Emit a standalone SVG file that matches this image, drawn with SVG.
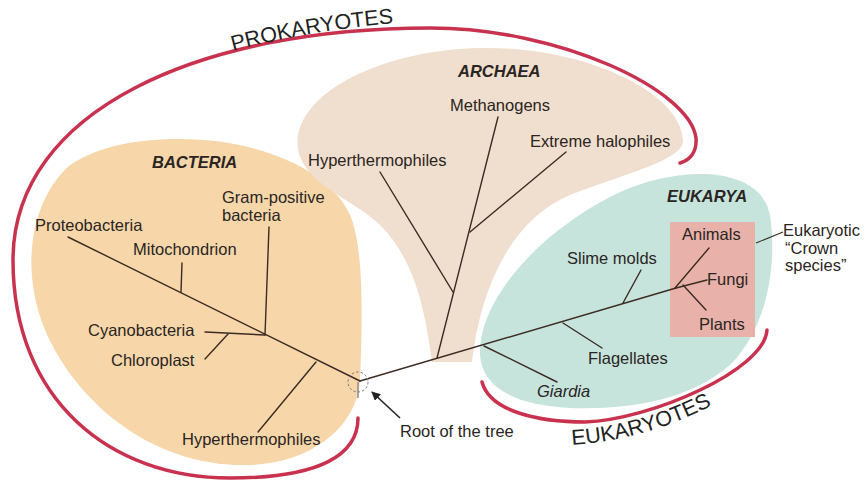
<svg xmlns="http://www.w3.org/2000/svg" width="868" height="481" viewBox="0 0 868 481">
<defs>
<style>
.lbl{font-family:"Liberation Sans",Arial,sans-serif;font-size:16.5px;fill:#2a2522}
.hdr{font-family:"Liberation Sans",Arial,sans-serif;font-size:16.5px;font-weight:bold;font-style:italic;fill:#2a2522}
.big{font-family:"Liberation Sans",Arial,sans-serif;font-size:21.5px;fill:#222}
.br{fill:none;stroke:#3b2b22;stroke-width:1.4;stroke-linecap:round}
.red{fill:none;stroke:#c8324f;stroke-width:3.5;stroke-linecap:round}
</style>
<marker id="ah" viewBox="0 0 10 10" refX="9" refY="5" markerWidth="9" markerHeight="9" orient="auto" markerUnits="userSpaceOnUse">
<path d="M0,0 L10,5 L0,10 Z" fill="#222"/>
</marker>
<path id="pProk" d="M 233 51 Q 310 30 398 23"/>
<path id="pEuk" d="M 572 445 Q 650 440 724 399"/>
</defs>
<rect width="868" height="481" fill="#fff"/>

<g id="regions">
<path id="bacteria-region" d="M 180 139 C 260 139 330 170 350 215 C 365 250 362 330 360 380 C 358 420 320 462 250 465 C 150 468 75 400 45 330 C 20 270 30 200 70 165 C 100 145 140 139 180 139 Z" fill="#f7d7aa"/>
<path id="archaea-region" d="M 432 362 C 425 310 415 260 380 225 C 355 200 305 185 298 150 C 290 95 380 50 480 48 C 580 46 680 90 683 140 C 685 160 620 175 570 195 C 510 220 480 290 472 362 Z" fill="#f0dece"/>
<path id="eukarya-region" d="M 480 355 C 478 300 540 230 620 192 C 680 165 760 165 770 215 C 778 270 765 330 730 365 C 690 400 630 410 570 408 C 510 405 482 385 480 355 Z" fill="#c7e4dc"/>
<rect id="crown-box" x="670" y="222" width="85" height="115" fill="#e8b2aa"/>
</g>

<g id="brackets">
<path id="prokaryotes-bracket" class="red" d="M 358 418 C 358 455 320 478 230 478 C 110 478 13 400 13 260 C 13 110 200 28 430 28 C 560 28 690 90 696 138 C 697 152 690 160 680 163"/>
<path id="eukaryotes-bracket" class="red" d="M 482 382 C 490 412 540 422 585 422 C 650 420 765 370 767 330"/>
</g>

<g id="connectors">
<path class="br" d="M 68 237 L 360 381"/>
<path class="br" d="M 181 292 L 182 263"/>
<path class="br" d="M 265 335 L 269 227"/>
<path class="br" d="M 205 332 L 265 335"/>
<path class="br" d="M 228 334 L 205 359"/>
<path class="br" d="M 316 362 L 258 432"/>
<path class="br" d="M 360 381 L 676 288"/>
<path class="br" d="M 437 358 L 498 117"/>
<path class="br" d="M 453 292 L 380 172"/>
<path class="br" d="M 470 232 L 566 152"/>
<path class="br" d="M 484 346 L 557 382"/>
<path class="br" d="M 563 323 L 602 348"/>
<path class="br" d="M 623 303 L 641 270"/>
<path class="br" d="M 675 288 L 709 248"/>
<path class="br" d="M 676 288 L 707 280"/>
<path class="br" d="M 683 285 L 706 310"/>
<path d="M 783 232 L 756 243" fill="none" stroke="#3b2b22" stroke-width="1.1"/>
<circle cx="358" cy="382" r="10" fill="none" stroke="#777" stroke-width="1" stroke-dasharray="2.5 2"/>
<path d="M 358 382 L 358 398" stroke="#888" stroke-width="1.4"/>
<path d="M 400 418 L 372 392" stroke="#222" stroke-width="1.6" marker-end="url(#ah)"/>
</g>

<g id="label-prokaryotes"><text class="big"><textPath href="#pProk">PROKARYOTES</textPath></text></g>
<g id="label-eukaryotes"><text class="big"><textPath href="#pEuk">EUKARYOTES</textPath></text></g>

<g id="node-bacteria"><text class="hdr" x="152" y="168">BACTERIA</text></g>
<g id="node-archaea"><text class="hdr" x="458" y="77">ARCHAEA</text></g>
<g id="node-eukarya"><text class="hdr" x="667" y="202">EUKARYA</text></g>

<g id="node-proteobacteria"><text class="lbl" x="35" y="231">Proteobacteria</text></g>
<g id="node-mitochondrion"><text class="lbl" x="133" y="255">Mitochondrion</text></g>
<g id="node-gram-positive"><text class="lbl" x="222" y="203">Gram-positive</text><text class="lbl" x="222" y="221">bacteria</text></g>
<g id="node-cyanobacteria"><text class="lbl" x="88" y="336">Cyanobacteria</text></g>
<g id="node-chloroplast"><text class="lbl" x="111" y="366">Chloroplast</text></g>
<g id="node-hyperthermophiles-bacteria"><text class="lbl" x="182" y="445">Hyperthermophiles</text></g>

<g id="node-methanogens"><text class="lbl" x="450" y="111">Methanogens</text></g>
<g id="node-extreme-halophiles"><text class="lbl" x="530" y="147">Extreme halophiles</text></g>
<g id="node-hyperthermophiles-archaea"><text class="lbl" x="308" y="166">Hyperthermophiles</text></g>

<g id="node-slime-molds"><text class="lbl" x="567" y="264">Slime molds</text></g>
<g id="node-flagellates"><text class="lbl" x="588" y="364">Flagellates</text></g>
<g id="node-giardia"><text class="lbl" x="537" y="397" font-style="italic">Giardia</text></g>
<g id="node-animals"><text class="lbl" x="682" y="240">Animals</text></g>
<g id="node-fungi"><text class="lbl" x="707" y="285">Fungi</text></g>
<g id="node-plants"><text class="lbl" x="699" y="330">Plants</text></g>
<g id="node-crown"><text class="lbl" x="783" y="236">Eukaryotic</text><text class="lbl" x="785" y="254">“Crown</text><text class="lbl" x="785" y="271">species”</text></g>
<g id="node-root"><text class="lbl" x="400" y="437">Root of the tree</text></g>
</svg>
